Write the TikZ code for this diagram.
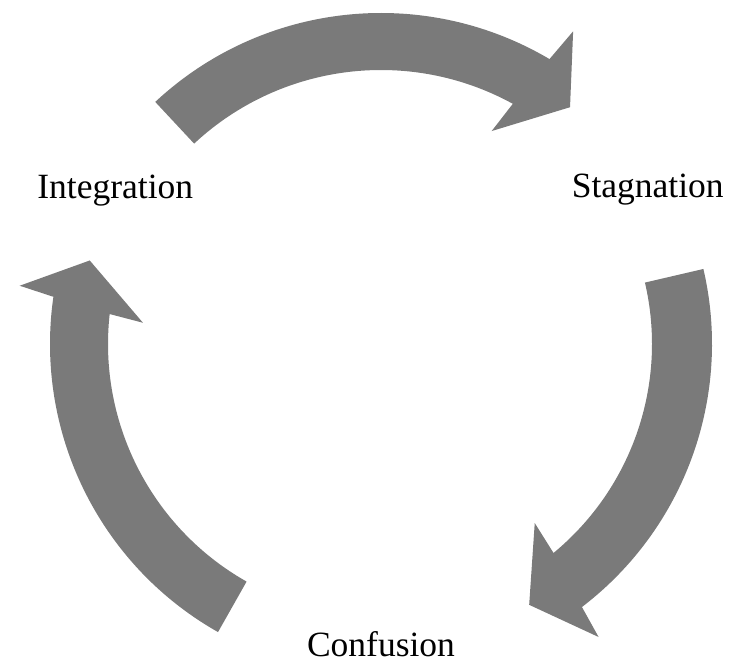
\documentclass[tikz,border=0pt]{standalone}
\usepackage{fontspec}
\setmainfont{Liberation Serif}
\definecolor{arrowgray}{RGB}{122,122,122}
\tikzset{
  cyclearrow/.style={fill=arrowgray, draw=none},
  cyclelabel/.style={inner sep=0pt, anchor=base, font=\fontsize{35.5pt}{40pt}\selectfont}
}
\begin{document}
\begin{tikzpicture}
\useasboundingbox (0pt,0pt) rectangle (736pt,661pt);
\begin{scope}[shift={(381pt,317pt)}]
  % top arrow: Integration -> Stagnation
  \fill[cyclearrow] (133:331pt) arc[start angle=133, end angle=59.4, radius=331pt]
    -- (58.43:367pt) -- (51.4:303pt) -- (62.54:240pt) -- (61.24:274pt)
    arc[start angle=61.24, end angle=133, radius=274pt] -- cycle;
  % right arrow: Stagnation -> Confusion
  \fill[cyclearrow] (13.1:331pt) arc[start angle=13.1, end angle=-52.62, radius=331pt]
    -- (-53.4:365pt) -- (-60.4:300pt) -- (-49.35:236pt) -- (-50.46:271pt)
    arc[start angle=-50.46, end angle=13.1, radius=271pt] -- cycle;
  % left arrow: Confusion -> Integration
  \fill[cyclearrow] (240.5:331pt) arc[start angle=240.5, end angle=171.8, radius=331pt]
    -- (170.84:366pt) -- (164.0:303pt) -- (174.9:239pt) -- (173.7:273pt)
    arc[start angle=173.7, end angle=240.5, radius=273pt] -- cycle;
\end{scope}
\node[cyclelabel] (integration) at (115.3pt,462.7pt) {Integration};
\node[cyclelabel] (stagnation) at (647.7pt,463.7pt) {Stagnation};
\node[cyclelabel] (confusion) at (381pt,5pt) {Confusion};
\end{tikzpicture}
\end{document}
